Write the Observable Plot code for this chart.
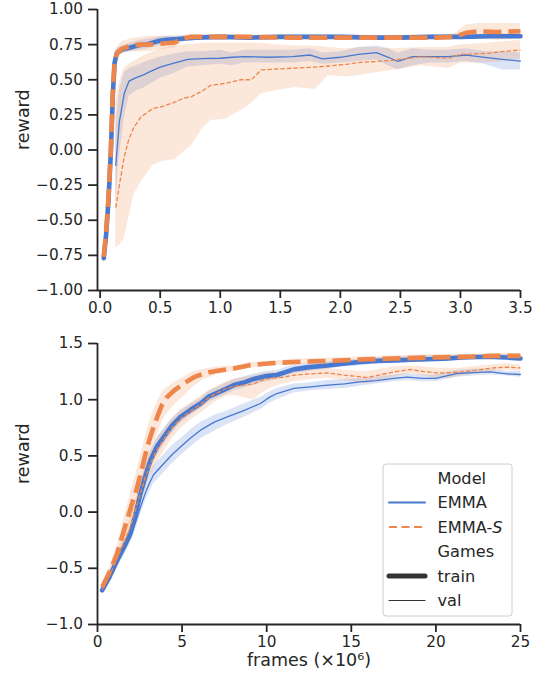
<!DOCTYPE html>
<html>
<head>
<meta charset="utf-8">
<script src="https://cdn.jsdelivr.net/npm/d3@7"></script>
<script src="https://cdn.jsdelivr.net/npm/@observablehq/plot@0.6"></script>
<style>
  body { margin: 0; background: white; }
  #chart svg { display: block; }
</style>
</head>
<body>
<div id="chart"></div>
<script>
// ---------- DATA (x in 10^6 frames, [x, mean, lower, upper]) ----------
const topXTicks = [0, 0.5, 1, 1.5, 2, 2.5, 3, 3.5];
const topYTicks = [-1, -0.75, -0.5, -0.25, 0, 0.25, 0.5, 0.75, 1];
const bottomXTicks = [0, 5, 10, 15, 20, 25];
const bottomYTicks = [-1, -0.5, 0, 0.5, 1, 1.5];
const models = ["EMMA", "EMMA-S"];
const games = ["train", "val"];

const topEmmaTrain = [
  [0.03,-0.77,-0.82,-0.72],[0.05,-0.60,-0.66,-0.54],[0.07,-0.35,-0.42,-0.28],[0.09,0.00,-0.07,0.07],
  [0.105,0.38,0.30,0.45],[0.12,0.62,0.56,0.67],[0.14,0.69,0.66,0.72],[0.18,0.715,0.69,0.74],
  [0.25,0.73,0.70,0.76],[0.32,0.745,0.71,0.78],[0.40,0.755,0.72,0.79],[0.48,0.775,0.74,0.805],
  [0.55,0.785,0.76,0.81],[0.65,0.79,0.77,0.81],[0.8,0.80,0.785,0.815],[1.0,0.805,0.79,0.82],
  [1.25,0.80,0.79,0.815],[1.5,0.805,0.79,0.82],[1.75,0.805,0.79,0.82],[2.0,0.805,0.79,0.82],
  [2.25,0.80,0.79,0.815],[2.5,0.80,0.785,0.815],[2.75,0.805,0.79,0.82],[3.0,0.805,0.79,0.82],
  [3.25,0.81,0.795,0.825],[3.5,0.81,0.795,0.825]
];
const topEmmaSTrain = [
  [0.03,-0.76,-0.81,-0.71],[0.05,-0.58,-0.65,-0.51],[0.07,-0.33,-0.41,-0.25],[0.09,0.02,-0.06,0.10],
  [0.105,0.40,0.32,0.48],[0.12,0.63,0.57,0.69],[0.14,0.69,0.65,0.73],[0.18,0.72,0.68,0.77],
  [0.25,0.74,0.70,0.79],[0.32,0.75,0.70,0.80],[0.40,0.75,0.70,0.81],[0.48,0.755,0.71,0.81],
  [0.55,0.76,0.72,0.81],[0.62,0.765,0.73,0.81],[0.68,0.79,0.76,0.815],[0.75,0.805,0.79,0.82],
  [0.9,0.805,0.79,0.82],[1.2,0.805,0.79,0.82],[1.6,0.80,0.785,0.815],[2.0,0.80,0.785,0.815],
  [2.4,0.80,0.785,0.815],[2.8,0.80,0.785,0.815],[2.95,0.805,0.79,0.83],[3.05,0.835,0.79,0.89],
  [3.15,0.845,0.79,0.90],[3.3,0.84,0.78,0.90],[3.5,0.845,0.79,0.90]
];
const topEmmaVal = [
  [0.13,-0.11,-0.38,0.17],[0.16,0.20,-0.05,0.42],[0.2,0.40,0.22,0.55],[0.24,0.49,0.38,0.58],
  [0.3,0.515,0.42,0.60],[0.36,0.535,0.44,0.62],[0.42,0.56,0.47,0.64],[0.5,0.59,0.51,0.66],
  [0.6,0.615,0.54,0.68],[0.73,0.645,0.59,0.70],[0.85,0.65,0.60,0.70],[1.0,0.653,0.61,0.71],
  [1.1,0.66,0.60,0.69],[1.2,0.665,0.62,0.71],[1.4,0.66,0.62,0.71],[1.6,0.665,0.62,0.71],
  [1.75,0.676,0.63,0.72],[1.85,0.648,0.61,0.69],[2.0,0.66,0.62,0.70],[2.15,0.68,0.63,0.73],
  [2.3,0.693,0.64,0.74],[2.4,0.66,0.60,0.72],[2.48,0.63,0.57,0.69],[2.6,0.664,0.60,0.72],
  [2.75,0.665,0.62,0.71],[2.9,0.664,0.62,0.71],[3.05,0.676,0.63,0.72],[3.2,0.66,0.61,0.70],
  [3.35,0.645,0.57,0.70],[3.5,0.633,0.57,0.69]
];
const topEmmaSVal = [
  [0.13,-0.41,-0.70,0.35],[0.16,-0.25,-0.68,0.48],[0.2,-0.05,-0.63,0.58],[0.24,0.08,-0.48,0.61],
  [0.28,0.16,-0.32,0.63],[0.34,0.235,-0.23,0.66],[0.44,0.295,-0.11,0.70],[0.52,0.31,-0.08,0.72],
  [0.62,0.34,-0.07,0.74],[0.7,0.37,-0.01,0.75],[0.76,0.38,0.03,0.75],[0.85,0.42,0.15,0.76],
  [0.92,0.46,0.21,0.76],[1.05,0.475,0.22,0.76],[1.17,0.50,0.28,0.76],[1.26,0.50,0.33,0.76],
  [1.34,0.57,0.40,0.76],[1.45,0.575,0.42,0.75],[1.62,0.583,0.445,0.74],[1.79,0.59,0.43,0.74],
  [1.9,0.598,0.53,0.73],[2.05,0.61,0.52,0.72],[2.17,0.624,0.53,0.73],[2.3,0.63,0.55,0.73],
  [2.45,0.64,0.57,0.72],[2.67,0.664,0.60,0.73],[2.9,0.653,0.58,0.73],[3.0,0.681,0.62,0.75],
  [3.23,0.688,0.62,0.76],[3.35,0.70,0.63,0.77],[3.5,0.712,0.65,0.78]
];

const bottomEmmaTrain = [
  [0.28,-0.695,-0.72,-0.67],[0.7,-0.58,-0.61,-0.55],[1.16,-0.43,-0.47,-0.39],[1.6,-0.30,-0.35,-0.25],
  [1.95,-0.19,-0.25,-0.13],[2.25,-0.02,-0.09,0.05],[2.54,0.165,0.09,0.24],[2.85,0.33,0.25,0.41],
  [3.13,0.46,0.38,0.54],[3.5,0.58,0.50,0.66],[3.92,0.67,0.60,0.74],[4.4,0.77,0.70,0.83],
  [4.9,0.847,0.79,0.90],[5.5,0.91,0.86,0.96],[6.09,0.966,0.92,1.01],[6.6,1.03,0.98,1.08],
  [7.07,1.06,1.01,1.11],[7.5,1.09,1.04,1.14],[8.06,1.13,1.08,1.18],[8.6,1.15,1.10,1.20],
  [9.24,1.185,1.13,1.23],[10.0,1.21,1.16,1.25],[10.6,1.22,1.18,1.26],[11.6,1.27,1.23,1.31],
  [12.5,1.29,1.25,1.32],[13.6,1.305,1.27,1.34],[14.5,1.32,1.29,1.35],[15.5,1.335,1.30,1.36],
  [16.5,1.345,1.32,1.37],[17.5,1.35,1.32,1.38],[18.5,1.355,1.33,1.38],[19.5,1.36,1.34,1.39],
  [20.5,1.365,1.34,1.39],[21.5,1.375,1.35,1.40],[22.5,1.38,1.36,1.40],[23.4,1.38,1.36,1.40],
  [24.2,1.375,1.35,1.40],[25,1.366,1.34,1.39]
];
const bottomEmmaSTrain = [
  [0.28,-0.666,-0.70,-0.63],[0.7,-0.54,-0.59,-0.49],[1.16,-0.37,-0.44,-0.30],[1.45,-0.22,-0.32,-0.12],
  [1.75,-0.07,-0.19,0.05],[2.05,0.08,-0.06,0.22],[2.35,0.224,0.06,0.38],[2.65,0.40,0.23,0.56],
  [2.94,0.58,0.41,0.74],[3.25,0.73,0.57,0.88],[3.53,0.847,0.69,0.98],[3.8,0.95,0.80,1.06],
  [4.12,1.025,0.88,1.11],[4.6,1.09,0.96,1.16],[5.1,1.144,1.03,1.20],[5.7,1.20,1.12,1.25],
  [6.28,1.233,1.18,1.27],[7.0,1.255,1.22,1.29],[8.06,1.278,1.25,1.30],[9.0,1.307,1.28,1.33],
  [10.06,1.322,1.30,1.34],[11.6,1.336,1.31,1.36],[13.6,1.345,1.32,1.37],[15.5,1.357,1.33,1.38],
  [17.5,1.366,1.34,1.39],[19.5,1.375,1.35,1.40],[21.5,1.381,1.36,1.40],[23.4,1.39,1.37,1.41],
  [25,1.39,1.37,1.41]
];
const bottomEmmaVal = [
  [0.28,-0.70,-0.73,-0.67],[0.7,-0.59,-0.62,-0.55],[1.16,-0.45,-0.50,-0.40],[1.6,-0.33,-0.38,-0.27],
  [1.95,-0.22,-0.28,-0.15],[2.25,-0.09,-0.16,-0.02],[2.54,0.046,-0.03,0.12],[2.9,0.20,0.12,0.28],
  [3.3,0.33,0.25,0.41],[3.92,0.432,0.35,0.51],[4.4,0.51,0.43,0.59],[4.9,0.58,0.50,0.65],
  [5.5,0.66,0.58,0.73],[6.09,0.729,0.65,0.80],[6.9,0.80,0.72,0.86],[7.67,0.847,0.78,0.90],
  [8.6,0.90,0.84,0.96],[9.63,0.966,0.91,1.02],[10.2,1.025,0.97,1.07],[10.6,1.055,1.00,1.10],
  [11.6,1.10,1.06,1.14],[12.6,1.115,1.08,1.15],[13.6,1.129,1.09,1.17],[14.6,1.14,1.10,1.18],
  [15.5,1.158,1.12,1.19],[16.5,1.17,1.14,1.20],[17.5,1.19,1.16,1.22],[18.3,1.20,1.17,1.23],
  [19.2,1.19,1.16,1.22],[20.0,1.19,1.16,1.22],[21.2,1.233,1.20,1.26],[22.2,1.24,1.21,1.27],
  [23.2,1.247,1.22,1.27],[24.2,1.23,1.21,1.25],[25,1.224,1.20,1.25]
];
const bottomEmmaSVal = [
  [0.28,-0.69,-0.72,-0.66],[0.7,-0.57,-0.61,-0.53],[1.16,-0.41,-0.46,-0.36],[1.6,-0.26,-0.32,-0.20],
  [1.95,-0.13,-0.20,-0.06],[2.25,0.02,-0.06,0.10],[2.54,0.17,0.08,0.26],[2.85,0.32,0.22,0.42],
  [3.13,0.43,0.33,0.53],[3.5,0.55,0.44,0.65],[3.92,0.65,0.54,0.74],[4.4,0.75,0.65,0.83],
  [4.9,0.83,0.74,0.91],[5.5,0.90,0.82,0.97],[6.09,0.96,0.88,1.03],[6.6,1.02,0.94,1.08],
  [7.07,1.06,0.99,1.12],[7.6,1.10,1.03,1.16],[8.06,1.12,1.04,1.18],[8.6,1.13,1.02,1.20],
  [9.24,1.14,1.00,1.21],[9.63,1.17,1.05,1.23],[10.2,1.19,1.10,1.24],[11.0,1.20,1.14,1.25],
  [11.6,1.218,1.16,1.26],[12.6,1.23,1.18,1.27],[13.6,1.238,1.19,1.28],[14.6,1.218,1.17,1.26],
  [15.9,1.198,1.14,1.25],[16.7,1.22,1.17,1.27],[17.5,1.247,1.20,1.29],[18.5,1.269,1.23,1.30],
  [19.3,1.25,1.21,1.29],[20.0,1.238,1.19,1.28],[20.8,1.24,1.19,1.28],[21.5,1.247,1.21,1.28],
  [22.5,1.265,1.23,1.30],[23.4,1.283,1.25,1.31],[24.2,1.29,1.26,1.32],[25,1.283,1.25,1.31]
];

// ---------- STYLE ----------
const BLUE = "#4878d0", ORANGE = "#ee854a", INK = "#262626";
const FONT = "DejaVu Sans";

function band(data, color) {
  return Plot.areaY(data, {x: d => d[0], y1: d => d[2], y2: d => d[3], fill: color, fillOpacity: 0.2});
}
function curve(data, color, width, dash) {
  return Plot.line(data, {x: d => d[0], y: d => d[1], stroke: color, strokeWidth: width,
    strokeDasharray: dash, strokeLinecap: dash ? "butt" : "round", strokeLinejoin: "round"});
}

function panel(o) {
  const [tr, trS, va, vaS] = o.data;
  return Plot.plot({
    width: 539, height: o.height,
    marginLeft: 97, marginRight: 19, marginTop: o.marginTop, marginBottom: o.marginBottom,
    x: {domain: o.xDomain},
    y: {domain: o.yDomain},
    style: {fontFamily: FONT, fontSize: "15.3px", color: INK, background: "white", overflow: "visible"},
    marks: [
      band(tr, BLUE), band(va, BLUE), band(trS, ORANGE), band(vaS, ORANGE),
      curve(tr, BLUE, 4.6, null),
      curve(va, BLUE, 1.3, null),
      curve(trS, ORANGE, 4.6, "18,7"),
      curve(vaS, ORANGE, 1.3, "4.5,2"),
      Plot.ruleX([o.xDomain[0]], {stroke: INK, strokeWidth: 1.8}),
      Plot.ruleY([o.yDomain[0]], {stroke: INK, strokeWidth: 1.8}),
      Plot.axisX({ticks: o.xTicks, tickFormat: o.xFmt, tickSize: 8, tickPadding: 4,
        stroke: INK, strokeWidth: 1.8, label: null, fontSize: 15.3}),
      Plot.axisY({ticks: o.yTicks, tickFormat: o.yFmt, tickSize: 9, tickPadding: 5.5,
        stroke: INK, strokeWidth: 1.8, label: null, fontSize: 15.3}),
      Plot.text(["reward"], {frameAnchor: "left", dx: -73.7, rotate: -90, fontSize: 17.5, fill: INK}),
      ...(o.xLabel ? [Plot.text([o.xLabel], {frameAnchor: "bottom", dy: 41.5, fontSize: 17.5, fill: INK})] : [])
    ]
  });
}

const topChart = panel({
  height: 322, marginTop: 9, marginBottom: 32,
  xDomain: [-0.022, 3.5], yDomain: [-1, 1],
  xTicks: topXTicks, yTicks: topYTicks, xFmt: d3.format(".1f"), yFmt: d3.format(".2f"),
  data: [topEmmaTrain, topEmmaSTrain, topEmmaVal, topEmmaSVal]
});
const bottomChart = panel({
  height: 356, marginTop: 21, marginBottom: 54,
  xDomain: [0, 25], yDomain: [-1, 1.5],
  xTicks: bottomXTicks, yTicks: bottomYTicks, xFmt: d3.format("d"), yFmt: d3.format(".1f"),
  xLabel: "frames (×10⁶)",
  data: [bottomEmmaTrain, bottomEmmaSTrain, bottomEmmaVal, bottomEmmaSVal]
});

const root = document.getElementById("chart");
root.append(topChart, bottomChart);

// ---------- LEGEND (inside lower panel) ----------
const svg = d3.select(bottomChart);
const lg = svg.append("g").attr("font-family", FONT).attr("font-size", 16.2)
  .attr("fill", INK).attr("text-anchor", "start");
lg.append("rect").attr("x", 383).attr("y", 142).attr("width", 129).attr("height", 152)
  .attr("rx", 3).attr("fill", "white").attr("fill-opacity", 0.8)
  .attr("stroke", "#cccccc").attr("stroke-width", 1);
const rows = [
  {label: "Model"},
  {label: models[0], stroke: BLUE, w: 2},
  {label: models[1], stroke: ORANGE, w: 2, dash: "8,4.5", italicTail: true},
  {label: "Games"},
  {label: games[0], stroke: "#333333", w: 5},
  {label: games[1], stroke: "#333333", w: 1.2}
];
rows.forEach((r, i) => {
  const y = 156 + i * 24.5;
  if (r.stroke) {
    lg.append("line").attr("x1", 389).attr("x2", 425).attr("y1", y).attr("y2", y)
      .attr("stroke", r.stroke).attr("stroke-width", r.w)
      .attr("stroke-dasharray", r.dash || null).attr("stroke-linecap", r.dash ? "butt" : "round");
  }
  const t = lg.append("text").attr("x", 437.5).attr("y", y).attr("dy", "0.35em")
    .attr("text-anchor", "start");
  if (r.italicTail) {
    t.append("tspan").text("EMMA-");
    t.append("tspan").attr("font-style", "italic").text("S");
  } else {
    t.text(r.label);
  }
});
</script>
</body>
</html>
